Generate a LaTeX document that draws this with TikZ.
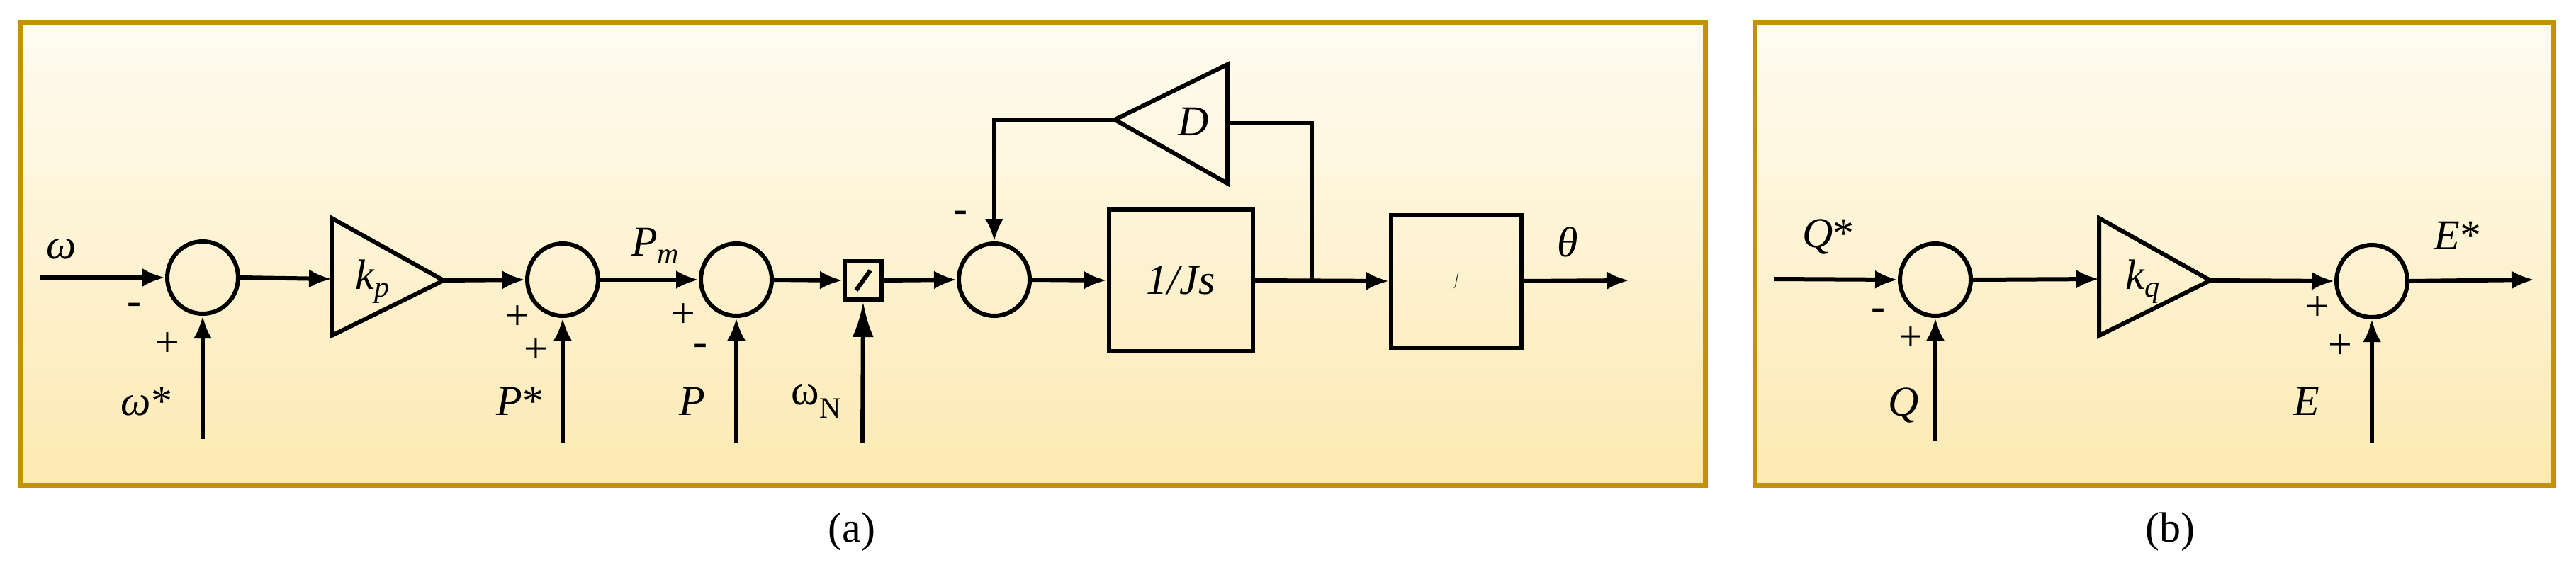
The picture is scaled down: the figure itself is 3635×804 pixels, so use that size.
\documentclass[tikz,border=0pt]{standalone}
\usepackage{fontspec}
\setmainfont{Liberation Serif}
\usetikzlibrary{arrows.meta}
\definecolor{frm}{HTML}{C39208}
\definecolor{bgtop}{HTML}{FEFCF2}
\definecolor{bgbot}{HTML}{FDE9B2}
\begin{document}
\begin{tikzpicture}[x=1pt,y=-1pt,
  every node/.style={font=\fontsize{60}{70}\selectfont},
  wire/.style={line width=6pt},
  arr/.style={wire,-{Latex[length=32pt,width=26pt]}},
  bigarr/.style={wire,-{Latex[length=50pt,width=30pt]}},
  sum/.style={draw,ellipse,line width=6pt,minimum width=100pt,minimum height=102pt,inner sep=0pt},
  blk/.style={draw,rectangle,line width=6pt,inner sep=0pt},
  frame/.style={draw=frm,line width=7pt,top color=bgtop,bottom color=bgbot},
  tri/.style={line width=6pt,line join=miter}]
\usetikzlibrary{shapes.geometric}
\useasboundingbox (0,0) rectangle (3635,804);
\fill[white] (0,0) rectangle (3635,804);
\path[frame] (29,31) rectangle (2406,685);
\path[frame] (2476,31) rectangle (3603,685);
% panel a
\node[sum] (s1) at (286,392) {};
\node[sum] (s2) at (794,395) {};
\node[sum] (s3) at (1039,395) {};
\node[blk,minimum width=52pt,minimum height=54pt] (sw) at (1218,396) {};
\draw[line width=6pt] ([shift={(-10,14)}]sw.center) -- ([shift={(10,-14)}]sw.center);
\node[sum] (s4) at (1403,395) {};
\node[blk,minimum width=203pt,minimum height=200pt] (js) at (1666,396) {\textit{1/Js}};
\node[blk,minimum width=184pt,minimum height=187pt] (int) at (2055,397) {$\displaystyle\int$};
% kp triangle
\coordinate (kpA) at (468,308); \coordinate (kpB) at (468,474); \coordinate (kpT) at (626,396);
\coordinate (kpin) at (468,394);
\draw[tri] (kpA) -- (kpT) -- (kpB) -- cycle;
\node (kpl) at (526,398) {\textit{k\textsubscript{p}}};
% D triangle
\coordinate (dA) at (1732,91); \coordinate (dB) at (1732,259); \coordinate (dT) at (1573,169);
\coordinate (din) at (1732,174);
\draw[tri] (dA) -- (dT) -- (dB) -- cycle;
\node (dl) at (1684,172) {\textit{D}};
% inputs
\coordinate (win) at (56,392);
\coordinate (wsin) at (286,620);
\coordinate (psin) at (794,625);
\coordinate (pin) at (1039,625);
\coordinate (wnin) at (1217,625);
\coordinate (br) at (1851,396);
\coordinate (brup) at (1851,174);
\coordinate (fbl) at (1403,169);
\coordinate (thout) at (2299,396);
\draw[arr] (win) -- (s1.west);
\draw[arr] (wsin) -- (s1.south);
\draw[arr] (s1.east) -- (kpin);
\draw[arr] (kpT) -- (s2.west);
\draw[arr] (psin) -- (s2.south);
\draw[arr] (s2.east) -- (s3.west);
\draw[arr] (pin) -- (s3.south);
\draw[arr] (s3.east) -- (sw.west);
\draw[bigarr] (wnin) -- (sw.south);
\draw[arr] (sw.east) -- (s4.west);
\draw[arr] (s4.east) -- (js.west);
\draw[arr] (js.east) -- (int.west);
\draw[wire] (br) -- (brup) -- (din);
\draw[arr] (dT) -- (fbl) -- (s4.north);
\draw[arr] (int.east) -- (thout);
% labels a
\node (lw) at (87,352) {\textit{ω}};
\node (lm1) at (189,436) {-};
\node (lp1) at (236,487) {+};
\node (lws) at (207,567) {\textit{ω}*};
\node (lp2) at (730,449) {+};
\node (lp3) at (756,496) {+};
\node (lps) at (734,567) {\textit{P}*};
\node (lpm) at (925,347) {\textit{P\textsubscript{m}}};
\node (lp4) at (964,446) {+};
\node (lm2) at (988,494) {-};
\node (lP) at (977,567) {\textit{P}};
\node (lwn) at (1152,567) {ω\textsubscript{N}};
\node (lm3) at (1355,306) {-};
\node (lth) at (2212,342) {\textit{θ}};
\node (la) at (1202,751) {(a)};
% panel b
\node[sum] (s5) at (2731,395) {};
\node[sum] (s6) at (3347,397) {};
\coordinate (kqA) at (2962,308); \coordinate (kqB) at (2962,474); \coordinate (kqT) at (3119,396);
\coordinate (kqin) at (2962,394);
\draw[tri] (kqA) -- (kqT) -- (kqB) -- cycle;
\node (kql) at (3024,398) {\textit{k\textsubscript{q}}};
\coordinate (qsin) at (2503,394);
\coordinate (qin) at (2731,623);
\coordinate (ein) at (3347,625);
\coordinate (eout) at (3576,395);
\draw[arr] (qsin) -- (s5.west);
\draw[arr] (qin) -- (s5.south);
\draw[arr] (s5.east) -- (kqin);
\draw[arr] (kqT) -- (s6.west);
\draw[arr] (ein) -- (s6.south);
\draw[arr] (s6.east) -- (eout);
\node (lqs) at (2580,334) {\textit{Q}*};
\node (lm4) at (2650,444) {-};
\node (lp5) at (2696,479) {+};
\node (lQ) at (2686,572) {\textit{Q}};
\node (lp6) at (3270,436) {+};
\node (lp7) at (3302,490) {+};
\node (lE) at (3255,567) {\textit{E}};
\node (les) at (3468,333) {\textit{E}*};
\node (lb) at (3062,751) {(b)};
\end{tikzpicture}
\end{document}
